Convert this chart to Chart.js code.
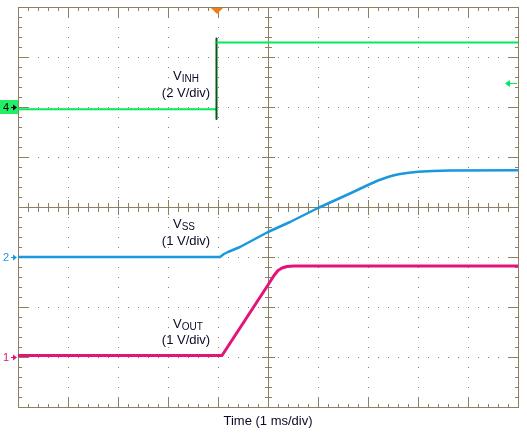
<!DOCTYPE html>
<html>
<head>
<meta charset="utf-8">
<script src="https://cdn.jsdelivr.net/npm/chart.js@4.4.1/dist/chart.umd.min.js"></script>
<style>
body { margin: 0; background: #fff; }
#scope { display: block; }
</style>
</head>
<body>
<canvas id="scope" width="527" height="435"></canvas>
<script>
// scope capture: time in ms (0 = trigger), channel values in volts

// CH4 - VINH (2 V/div)
const vinhTime = [-4, -0.03, -0.03, -0.03, -0.03, 6];
const vinhVolt = [-0.09, -0.09, -0.48, 2.74, 2.58, 2.58];

// CH2 - VSS (1 V/div)
const vssTime = [-4, 0.04, 0.12, 0.2, 0.44, 1.0, 1.44, 2.0, 2.64, 3.0, 3.2, 3.4, 3.52, 3.64, 3.82, 4.0, 4.3, 4.64, 6];
const vssVolt = [0, 0, 0.06, 0.1, 0.2, 0.5, 0.7, 0.98, 1.27, 1.44, 1.53, 1.6, 1.635, 1.66, 1.685, 1.705, 1.72, 1.73, 1.735];

// CH1 - VOUT (1 V/div)
const voutTime = [-4, 0.08, 1.0, 1.12, 1.2, 1.28, 1.38, 1.52, 2.5, 6];
const voutVolt = [0.03, 0.03, 1.44, 1.63, 1.73, 1.78, 1.81, 1.82, 1.82, 1.82];

const trigLevel = 0.96; // CH4 trigger level marker

const gridColor = '#8c8060';
const greenCol = '#00ea5a';
const greenDark = '#005a10';
const blueCol = '#1a98de';
const magCol = '#e2147a';
const textCol = '#0a0a28';

function pts(xs, ys) {
    return xs.map((x, i) => ({ x: x, y: ys[i] }));
}

// grid of the scope screen: dotted divisions, solid centre cross, border ticks
const scopeGrid = {
    id: 'scopeGrid',
    beforeDatasetsDraw(chart) {
        const ctx = chart.ctx;
        const xs = chart.scales.x, ys = chart.scales.y1;
        const px = t => Math.round(xs.getPixelForValue(t));
        const py = d => Math.round(ys.getPixelForValue(d));
        const L = px(-4), R = px(6), T = py(7), B = py(-1);
        const cx = px(1), cy = py(3);
        ctx.save();
        ctx.fillStyle = gridColor;
        // dotted lines
        for (let k = 1; k < 10; k++) {
            if (k == 5) continue;
            for (let j = 0; j <= 40; j++) ctx.fillRect(px(-4 + k), py(-1 + j * 0.2), 1, 1);
        }
        for (let m = 1; m < 8; m++) {
            if (m == 4) continue;
            for (let i = 0; i <= 50; i++) ctx.fillRect(px(-4 + i * 0.2), py(-1 + m), 1, 1);
        }
        // border
        ctx.fillRect(L, T, 1, B - T + 1);
        ctx.fillRect(R, T, 1, B - T + 1);
        ctx.fillRect(L, T, R - L + 1, 1);
        ctx.fillRect(L, B, R - L + 1, 1);
        // centre cross
        ctx.fillRect(cx, T, 1, B - T + 1);
        ctx.fillRect(L, cy, R - L + 1, 1);
        // ticks along x
        for (let i = 0; i <= 50; i++) {
            const x = px(-4 + i * 0.2);
            const len = i % 5 == 0 ? 10 : 4;
            ctx.fillRect(x, T, 1, len);
            ctx.fillRect(x, B - len + 1, 1, len);
            const c = i % 5 == 0 ? 7 : 4;
            ctx.fillRect(x, cy - c, 1, 2 * c + 1);
        }
        // ticks along y
        for (let j = 0; j <= 40; j++) {
            const y = py(-1 + j * 0.2);
            const len = j % 5 == 0 ? 10 : 4;
            ctx.fillRect(L, y, len, 1);
            ctx.fillRect(R - len + 1, y, len, 1);
            const c = j % 5 == 0 ? 6 : 3;
            ctx.fillRect(cx - c, y, 2 * c + 1, 1);
        }
        ctx.restore();
    }
};

function arrowRight(ctx, x0, x1, y, col) {
    ctx.fillStyle = col;
    ctx.fillRect(x0, y, x1 - x0, 1);
    ctx.beginPath();
    ctx.moveTo(x1 + 1, y + 0.5);
    ctx.lineTo(x1 - 3, y - 2.5);
    ctx.lineTo(x1 - 3, y + 3.5);
    ctx.closePath();
    ctx.fill();
}

function arrowLeft(ctx, x0, x1, y, col) {
    ctx.fillStyle = col;
    ctx.fillRect(x0, y, x1 - x0, 1);
    ctx.beginPath();
    ctx.moveTo(x0 - 1, y + 0.5);
    ctx.lineTo(x0 + 4, y - 3);
    ctx.lineTo(x0 + 4, y + 4);
    ctx.closePath();
    ctx.fill();
}

// channel markers, trigger marker and labels
const scopeText = {
    id: 'scopeText',
    afterDatasetsDraw(chart) {
        const ctx = chart.ctx;
        const a = chart.chartArea;
        const xs = chart.scales.x;
        ctx.save();
        const y4 = Math.round(chart.scales.y4.getPixelForValue(0));
        const y2 = Math.round(chart.scales.y2.getPixelForValue(0));
        const y1 = Math.round(chart.scales.y1.getPixelForValue(0));
        const yt = Math.round(chart.scales.y4.getPixelForValue(trigLevel));
        ctx.font = '11px "Liberation Sans", Arial, sans-serif';
        ctx.textBaseline = 'middle';
        ctx.textAlign = 'left';
        // CH4
        ctx.fillStyle = '#22ee66';
        ctx.fillRect(0, y4 - 7, 18, 14);
        ctx.fillStyle = '#000';
        ctx.fillText('4', 3, y4 + 1);
        arrowRight(ctx, 11, 16, y4, '#000');
        // CH2
        ctx.fillStyle = blueCol;
        ctx.fillText('2', 3, y2 + 1);
        arrowRight(ctx, 11, 16, y2, blueCol);
        // CH1
        ctx.fillStyle = magCol;
        ctx.fillText('1', 3, y1 + 1);
        arrowRight(ctx, 11, 16, y1, magCol);
        // trigger level
        arrowLeft(ctx, a.right - 12, a.right - 1, yt, greenCol);
        // trigger position
        const tx = Math.round(xs.getPixelForValue(-0.03));
        ctx.fillStyle = '#f08010';
        ctx.beginPath();
        ctx.moveTo(tx - 6, a.top + 1);
        ctx.lineTo(tx + 6, a.top + 1);
        ctx.lineTo(tx, a.top + 7);
        ctx.closePath();
        ctx.fill();

        // labels
        ctx.fillStyle = textCol;
        ctx.textBaseline = 'alphabetic';
        const labels = [
            ['V', 'INH', '(2 V/div)', 80, 97],
            ['V', 'SS', '(1 V/div)', 228, 245],
            ['V', 'OUT', '(1 V/div)', 328, 344]
        ];
        labels.forEach(l => {
            ctx.textAlign = 'left';
            ctx.font = '13px "Liberation Sans", Arial, sans-serif';
            ctx.fillText(l[0], 173, l[3]);
            const w = ctx.measureText(l[0]).width;
            ctx.font = '10px "Liberation Sans", Arial, sans-serif';
            ctx.fillText(l[1], 173 + w, l[3] + 2);
            ctx.font = '13px "Liberation Sans", Arial, sans-serif';
            ctx.textAlign = 'center';
            ctx.fillText(l[2], 186, l[4]);
        });
        ctx.textAlign = 'center';
        ctx.fillText('Time (1 ms/div)', Math.round(xs.getPixelForValue(1)), 425);
        ctx.restore();
    }
};

var ctx = document.getElementById('scope');
var scopeChart = new Chart(ctx, {
    type: 'line',
    data: {
        datasets: [{
            label: 'VINH',
            data: pts(vinhTime, vinhVolt),
            yAxisID: 'y4',
            borderColor: greenCol,
            borderWidth: 2,
            segment: {
                borderColor: c => c.p0.parsed.x === c.p1.parsed.x ? greenDark : greenCol
            }
        }, {
            label: 'VSS',
            data: pts(vssTime, vssVolt),
            yAxisID: 'y2',
            borderColor: blueCol,
            borderWidth: 2.5
        }, {
            label: 'VOUT',
            data: pts(voutTime, voutVolt),
            yAxisID: 'y1',
            borderColor: magCol,
            borderWidth: 3
        }]
    },
    options: {
        responsive: false,
        animation: false,
        devicePixelRatio: 1,
        layout: { padding: { left: 18, top: 7, right: 9, bottom: 28 } },
        elements: { point: { radius: 0 }, line: { tension: 0, borderJoinStyle: 'round' } },
        scales: {
            x: { type: 'linear', min: -4, max: 6, display: false },
            y1: { type: 'linear', min: -1, max: 7, display: false },
            y2: { type: 'linear', min: -3, max: 5, display: false },
            y4: { type: 'linear', min: -12, max: 4, display: false }
        },
        plugins: {
            legend: { display: false },
            tooltip: { enabled: false }
        }
    },
    plugins: [scopeGrid, scopeText]
});
</script>
</body>
</html>
